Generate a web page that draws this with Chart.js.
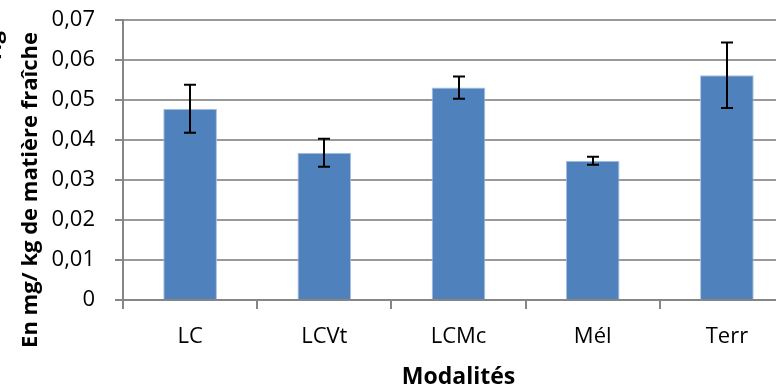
<!DOCTYPE html>
<html lang="fr">
<head>
    <meta charset="UTF-8">
    <title>Modalités</title>
    <script src="https://cdn.jsdelivr.net/npm/chart.js"></script>
    <style>
        html, body {
            margin: 0;
            padding: 0;
            overflow: hidden;
            background: #fff;
        }
        .chart-container {
            width: 800px;
            height: 387px;
        }
    </style>
</head>
<body>
    <div class="chart-container">
        <canvas id="barChart" width="800" height="387"></canvas>
    </div>
    <script>
        const categories = ['LC', 'LCVt', 'LCMc', 'Mél', 'Terr'];
        const means = [0.0478, 0.0368, 0.0531, 0.0348, 0.0562];
        const errors = [0.0060, 0.0035, 0.0028, 0.0010, 0.0082];
        const yTickLabels = ['0', '0,01', '0,02', '0,03', '0,04', '0,05', '0,06', '0,07'];
        const yTitleLines = ['Hg', 'En mg/ kg de matière fraîche'];
        const xTitle = 'Modalités';

        const axisGrey = '#868686';

        // error bars drawn from the y scale
        const errorBars = {
            id: 'errorBars',
            afterDatasetsDraw(chart) {
                const { ctx, scales: { y } } = chart;
                const meta = chart.getDatasetMeta(0);
                ctx.save();
                ctx.strokeStyle = '#000';
                ctx.lineWidth = 2;
                meta.data.forEach((bar, i) => {
                    const top = y.getPixelForValue(means[i] + errors[i]);
                    const bottom = y.getPixelForValue(means[i] - errors[i]);
                    const x = Math.round(bar.x);
                    ctx.beginPath();
                    ctx.moveTo(x, top);
                    ctx.lineTo(x, bottom);
                    ctx.moveTo(x - 6, top);
                    ctx.lineTo(x + 6, top);
                    ctx.moveTo(x - 6, bottom);
                    ctx.lineTo(x + 6, bottom);
                    ctx.stroke();
                });
                ctx.restore();
            }
        };

        // two-line rotated y title, first line is mostly cut off by the left edge
        const yTitle = {
            id: 'yTitle',
            afterDraw(chart) {
                const { ctx } = chart;
                ctx.save();
                ctx.fillStyle = '#000';
                ctx.font = 'bold 22px "Open Sans"';
                ctx.textBaseline = 'alphabetic';
                ctx.save();
                ctx.translate(1, 31);
                ctx.rotate(-Math.PI / 2);
                ctx.textAlign = 'right';
                ctx.fillText(yTitleLines[0], 0, 0);
                ctx.restore();
                ctx.translate(37, 190);
                ctx.rotate(-Math.PI / 2);
                ctx.textAlign = 'center';
                ctx.fillText(yTitleLines[1], 0, 0);
                ctx.restore();
            }
        };

        const ctx = document.getElementById('barChart').getContext('2d');
        new Chart(ctx, {
            type: 'bar',
            data: {
                labels: categories,
                datasets: [{
                    data: means,
                    backgroundColor: '#4F81BD',
                    borderColor: '#A9C0E0',
                    borderWidth: 1,
                    categoryPercentage: 1,
                    barPercentage: 0.4
                }]
            },
            options: {
                responsive: false,
                animation: false,
                layout: {
                    padding: { top: 20, right: 6, left: 0, bottom: 0 }
                },
                plugins: {
                    legend: { display: false },
                    tooltip: { enabled: false }
                },
                scales: {
                    x: {
                        grid: {
                            display: true,
                            drawOnChartArea: false,
                            drawTicks: true,
                            tickLength: 9,
                            color: axisGrey,
                            lineWidth: 2
                        },
                        border: { display: true, color: axisGrey, width: 2 },
                        ticks: {
                            color: '#000',
                            font: { family: 'Open Sans', size: 22 },
                            padding: 15,
                            maxRotation: 0
                        },
                        title: {
                            display: true,
                            text: xTitle,
                            color: '#000',
                            font: { family: 'Open Sans', size: 23, weight: 'bold' },
                            padding: { top: 0, bottom: -4 }
                        },
                        afterFit(scale) {
                            scale.height = 87;
                            scale.paddingLeft = 0;
                            scale.paddingRight = 0;
                        }
                    },
                    y: {
                        min: 0,
                        max: 0.07,
                        grid: {
                            color: '#999999',
                            lineWidth: 2,
                            drawTicks: true,
                            tickLength: 8,
                            tickColor: axisGrey
                        },
                        border: { display: true, color: axisGrey, width: 2 },
                        ticks: {
                            stepSize: 0.01,
                            color: '#000',
                            font: { family: 'Open Sans', size: 22 },
                            padding: 20,
                            callback: (value, index) => yTickLabels[index]
                        },
                        afterFit(scale) {
                            scale.width = 123;
                            scale.paddingTop = 0;
                            scale.paddingBottom = 0;
                        }
                    }
                }
            },
            plugins: [errorBars, yTitle]
        });
    </script>
</body>
</html>
